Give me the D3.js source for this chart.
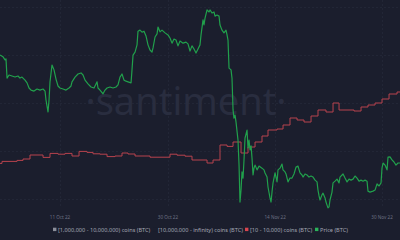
<!DOCTYPE html>
<html>
<head>
<meta charset="utf-8">
<script src="https://cdn.jsdelivr.net/npm/d3@7"></script>
</head>
<body style="overflow: hidden; padding: 0; margin: 0; background: #1b1e2d;">
<script>

    const width = 400;
    const height = 240;

    // day offsets from the left edge of the chart
    const tickDays = [8.7, 24.35, 39.9, 55.4];
    const tickLabels = ["11 Oct 22", "30 Oct 22", "14 Nov 22", "30 Nov 22"];
    const gridPrices = [21400, 20000, 18600, 17200, 15800];

    // [day, price]
    const price = [
      [0, 19990], [0.44, 19940], [0.73, 19850], [0.87, 19880], [1.02, 19320], [1.31, 19410],
      [1.74, 19380], [2.18, 19350], [2.61, 19380], [2.9, 19320], [3.19, 19350], [3.63, 19260],
      [3.92, 19180], [4.21, 19030], [4.5, 18970], [4.93, 18940], [5.37, 19000], [5.8, 18970],
      [6.24, 19000], [6.53, 18940], [6.67, 18680], [6.96, 18330], [7.11, 18680], [7.25, 19210],
      [7.54, 19700], [7.83, 19560], [8.12, 19290], [8.41, 19090], [8.7, 19030], [9.14, 19000],
      [9.57, 18970], [10.01, 19030], [10.3, 19090], [10.44, 19210], [10.88, 19350], [11.31, 19440],
      [11.75, 19470], [12.04, 19410], [12.33, 19260], [12.76, 19150], [13.2, 19060], [13.63, 19030],
      [13.92, 19150], [14.07, 19210], [14.21, 19030], [14.5, 18970], [14.94, 18860], [15.23, 18970],
      [15.52, 19030], [15.95, 19060], [16.39, 19030], [16.82, 19060], [17.11, 19120], [17.4, 19350],
      [17.69, 19440], [17.98, 19260], [18.27, 19230], [18.56, 19210], [19.0, 19180], [19.14, 19560],
      [19.29, 19990], [19.58, 20080], [19.87, 20290], [20.01, 20690], [20.3, 20720], [20.59, 20660],
      [20.88, 20690], [21.17, 20550], [21.46, 20290], [21.75, 20140], [22.04, 20080], [22.19, 20200],
      [22.48, 20520], [22.77, 20610], [22.91, 20810], [23.2, 20670], [23.49, 20720], [23.93, 20640],
      [24.36, 20580], [24.65, 20490], [24.94, 20340], [25.23, 20460], [25.52, 20430], [25.81, 20260],
      [26.1, 20400], [26.54, 20340], [26.97, 20370], [27.26, 20320], [27.55, 20110], [27.84, 20260],
      [28.13, 20170], [28.42, 20050], [28.71, 20170], [29.0, 20290], [29.15, 20580], [29.44, 21020],
      [29.58, 20870], [29.73, 21070], [30.02, 21310], [30.31, 21250], [30.45, 21310], [30.74, 21220],
      [31.03, 21250], [31.18, 21130], [31.47, 21160], [31.76, 21130], [31.9, 20870], [32.19, 20720],
      [32.48, 20640], [32.77, 20720], [32.92, 20580], [33.06, 20430], [33.21, 19610], [33.5, 19560],
      [33.64, 19320], [33.79, 18390], [33.93, 18150], [34.08, 18240], [34.22, 18040], [34.51, 17510],
      [34.66, 16780], [34.8, 15700], [34.95, 16050], [35.09, 16580], [35.24, 16400], [35.38, 16930],
      [35.53, 17570], [35.82, 17800], [35.96, 17280], [36.11, 17510], [36.25, 17220], [36.4, 17340],
      [36.54, 16990], [36.69, 16490], [36.83, 16690], [36.98, 16780], [37.27, 16640], [37.56, 16750],
      [37.99, 16690], [38.28, 16640], [38.43, 16550], [38.72, 16430], [38.86, 16140], [39.15, 15820],
      [39.3, 15700], [39.44, 15990], [39.59, 16260], [39.88, 16550], [40.02, 16430], [40.17, 16290],
      [40.31, 16640], [40.6, 16690], [40.89, 16810], [41.04, 16640], [41.33, 16580], [41.47, 16520],
      [41.76, 16290], [42.05, 16400], [42.34, 16400], [42.63, 16520], [42.92, 16720], [43.21, 16750],
      [43.5, 16550], [43.79, 16490], [43.94, 16430], [44.23, 16520], [44.52, 16490], [44.81, 16430],
      [45.1, 16460], [45.39, 16430], [45.68, 16340], [45.97, 16290], [46.11, 16050], [46.26, 15880],
      [46.4, 15760], [46.69, 15910], [46.84, 15960], [47.13, 15820], [47.27, 15700], [47.42, 15610],
      [47.56, 15530], [47.71, 15560], [47.85, 15760], [48.14, 15990], [48.29, 16260], [48.58, 16310],
      [48.87, 16370], [49.16, 16260], [49.3, 16430], [49.74, 16520], [50.03, 16400], [50.32, 16290],
      [50.61, 16370], [50.9, 16340], [51.19, 16370], [51.48, 16460], [51.77, 16400], [52.06, 16310],
      [52.35, 16340], [52.64, 16310], [52.93, 16340], [53.22, 16310], [53.36, 16020], [53.65, 15990],
      [54.09, 16020], [54.38, 16050], [54.67, 16230], [54.96, 16170], [55.25, 16260], [55.39, 16690],
      [55.54, 16840], [55.83, 16780], [56.12, 16640], [56.26, 17010], [56.55, 17020], [56.84, 16930],
      [57.13, 16870], [57.42, 16780], [57.71, 16840], [58.0, 16840]
    ];

    // [day, thousand BTC] held by [10 - 10,000) coins addresses
    const holders = [
      [0, 11403], [0.29, 11413], [2.47, 11418], [3.34, 11425], [4.35, 11445], [6.24, 11433],
      [7.25, 11453], [8.41, 11449], [9.43, 11453], [10.44, 11440], [11.46, 11463], [12.62, 11458],
      [13.49, 11451], [14.5, 11449], [15.52, 11437], [16.68, 11440], [17.69, 11455], [18.56, 11450],
      [19.58, 11440], [21.75, 11434], [24.65, 11449], [25.67, 11444], [26.83, 11439], [27.84, 11420],
      [30.02, 11405], [30.89, 11420], [31.9, 11495], [32.92, 11488], [33.79, 11510], [34.95, 11455],
      [35.96, 11485], [36.98, 11510], [37.99, 11540], [38.86, 11570], [40.17, 11575], [41.04, 11595],
      [42.05, 11630], [43.07, 11620], [44.08, 11610], [45.1, 11640], [46.11, 11670], [47.27, 11660],
      [48.29, 11705], [49.16, 11670], [51.33, 11665], [52.35, 11685], [53.36, 11695], [54.38, 11705],
      [55.39, 11725], [56.41, 11750], [57.57, 11760], [58.0, 11760]
    ];

    const legendNames = ["[1,000,000 - 10,000,000) coins (BTC)", "[10,000,000 - infinity) coins (BTC)",
      "[10 - 10,000) coins (BTC)", "Price (BTC)"];
    const legendColors = ["#8b8e99", "#1b1e2d", "#d8454f", "#2bb35a"];

    const x = d3.scaleLinear().domain([0, 58]).range([0, width]);
    const yPrice = d3.scaleLinear().domain([15760, 21600]).range([200, 0]);
    const yHolders = d3.scaleLinear().domain([11220, 12220]).range([200, 0]);

    const svg = d3.select("body").append("svg")
      .attr("width", width)
      .attr("height", height)
      .style("display", "block")
      .style("font-family", "'Noto Sans', sans-serif");

    svg.append("rect").attr("width", width).attr("height", height).attr("fill", "#1b1e2d");

    // grid
    svg.append("g").selectAll("line")
      .data(gridPrices)
      .enter().append("line")
      .attr("x1", 0).attr("x2", width)
      .attr("y1", d => Math.round(yPrice(d)) + 0.5)
      .attr("y2", d => Math.round(yPrice(d)) + 0.5)
      .attr("stroke", "#222636")
      .attr("stroke-dasharray", "2,2");

    svg.append("g").selectAll("line")
      .data(tickDays)
      .enter().append("line")
      .attr("x1", d => Math.round(x(d)) + 0.5).attr("x2", d => Math.round(x(d)) + 0.5)
      .attr("y1", 0).attr("y2", 208)
      .attr("stroke", "#222636")
      .attr("stroke-dasharray", "2,2");

    // watermark
    svg.append("text")
      .attr("x", 186).attr("y", 115)
      .attr("text-anchor", "middle")
      .attr("font-size", 38)
      .attr("fill", "#292d3f")
      .text("·santiment·");

    svg.append("path")
      .datum(holders)
      .attr("fill", "none")
      .attr("stroke", "#b8434e")
      .attr("stroke-width", 1)
      .attr("d", d3.line().curve(d3.curveStepAfter).x(d => x(d[0])).y(d => yHolders(d[1])));

    svg.append("path")
      .datum(price)
      .attr("fill", "none")
      .attr("stroke", "#21a04c")
      .attr("stroke-width", 1.2)
      .attr("stroke-linejoin", "round")
      .attr("d", d3.line().x(d => x(d[0])).y(d => yPrice(d[1])));

    // x axis labels
    svg.append("g").selectAll("text")
      .data(tickDays)
      .enter().append("text")
      .attr("x", d => x(d))
      .attr("y", 219)
      .attr("text-anchor", "middle")
      .attr("font-size", 4.6)
      .attr("fill", "#6d7184")
      .text((d, i) => tickLabels[i]);

    // legend
    const legendX = [53, 153, 245, 315];
    const legend = svg.append("g").selectAll("g")
      .data(legendNames)
      .enter().append("g")
      .attr("transform", (d, i) => "translate(" + legendX[i] + ",231)");

    legend.append("rect")
      .attr("x", 0).attr("y", -3.3)
      .attr("width", 3.4).attr("height", 3.4)
      .attr("fill", (d, i) => legendColors[i]);

    legend.append("text")
      .attr("x", 5)
      .attr("y", 0)
      .attr("dy", "0.1em")
      .attr("font-size", 5.6)
      .attr("fill", "#a4a7b4")
      .text(d => d);
</script>
</body>
</html>
